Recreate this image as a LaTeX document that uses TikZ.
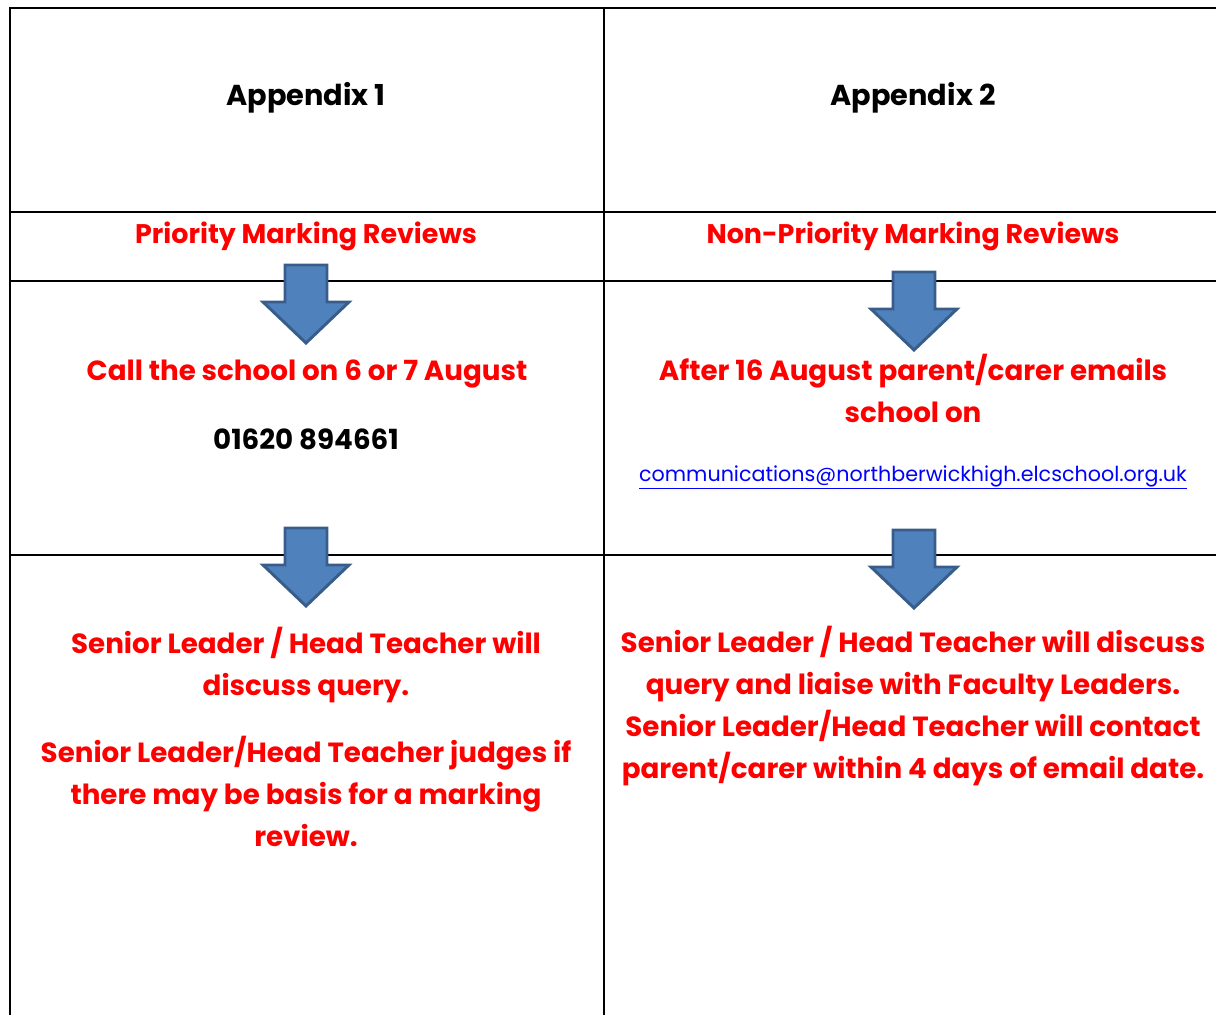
\documentclass[tikz,border=0pt]{standalone}
\usepackage{fontspec}
\setmainfont{Poppins}
\usepackage{xcolor}
\usetikzlibrary{positioning}

\definecolor{arrowblue}{HTML}{4F81BD}
\definecolor{arrowedge}{HTML}{385D8A}
\definecolor{linkblue}{HTML}{0000FF}

\begin{document}
\begin{tikzpicture}[
  x=0.75pt, y=-0.75pt,
  grid/.style={line width=1.5pt, line cap=rect},
  heading/.style={font=\fontsize{20.8}{31.5}\selectfont\bfseries, anchor=base, align=center, inner sep=0pt},
  title/.style={heading, font=\fontsize{21.6}{31.5}\selectfont\bfseries},
  redtext/.style={heading, text=red},
  section/.style={redtext, font=\fontsize{20.2}{31.5}\selectfont\bfseries},
  linktext/.style={font=\fontsize{15.5}{18}\selectfont, text=linkblue, anchor=base, inner sep=0pt},
  downarrow/.style={draw=arrowedge, fill=arrowblue, line width=2.2pt, line join=miter}
]
\useasboundingbox (0,0) rectangle (1216,1014);

% table rules
\draw[grid] (1216,8) -- (10,8) -- (10,1014);
\draw[grid] (604,8) -- (604,1014);
\foreach \ry in {212, 281, 555}
  \draw[grid] (10,\ry) -- (1216,\ry);

% block arrows
\foreach \cx/\ay in {306/265, 914/272, 306/528, 914/530}
  \draw[downarrow] (\cx-21,\ay) -- (\cx+21,\ay) -- (\cx+21,\ay+37) -- (\cx+43,\ay+37)
    -- (\cx,\ay+78) -- (\cx-43,\ay+37) -- (\cx-21,\ay+37) -- cycle;

% column 1 (base = baseline of last line)
\node[title] (app1) at (306,105) {Appendix 1};
\node[section] (prio) at (306,243) {Priority Marking Reviews};
\node[redtext] (call) at (307,380) {Call the school on 6 or 7 August};
\node[heading] (phone) at (306,449) {01620 894661};
\node[redtext] (lead1) at (306,695) {Senior Leader / Head Teacher will\\discuss query.};
\node[redtext] (judge) at (306,846) {Senior Leader/Head Teacher judges if\\there may be basis for a marking\\review.};

% column 2
\node[title] (app2) at (913,105) {Appendix 2};
\node[section] (nonprio) at (913,243) {Non-Priority Marking Reviews};
\node[redtext] (after) at (913,422) {After 16 August parent/carer emails\\school on};
\node[linktext] (email) at (913,481) {\underline{communications@northberwickhigh.elcschool.org.uk}};
\node[redtext] (lead2) at (913,778) {Senior Leader / Head Teacher will discuss\\query and liaise with Faculty Leaders.\\Senior Leader/Head Teacher will contact\\parent/carer within 4 days of email date.};

\end{tikzpicture}
\end{document}
